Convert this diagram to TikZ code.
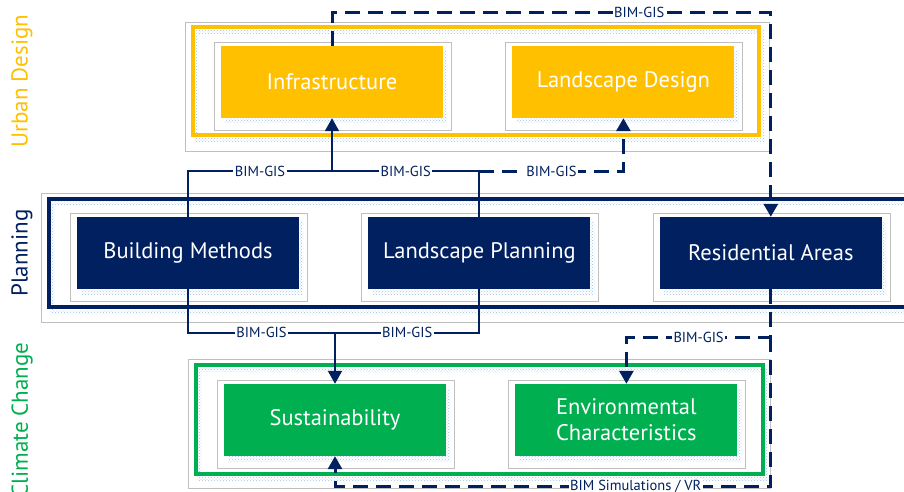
\documentclass[tikz,border=0pt]{standalone}
\usepackage{fontspec}
\setmainfont{PT Sans}
\usetikzlibrary{positioning,arrows.meta,patterns,shadows,backgrounds}
\definecolor{navy}{HTML}{002060}
\definecolor{gold}{HTML}{FFC000}
\definecolor{leaf}{HTML}{00B050}
\definecolor{frameg}{HTML}{BFBFBF}
\definecolor{dotblue}{HTML}{9DC3E6}
\tikzset{
    %Define standard arrow tip
    >={Triangle[width=14pt,length=13pt]},
    %Define style for boxes
    boks/.style={
           rectangle,
           inner sep=0pt,
           minimum width=222pt,
           minimum height=72pt,
           text=white,
           align=center,
           font=\fontsize{22.5}{26}\selectfont,
           general shadow={shadow xshift=4pt, shadow yshift=-5pt,
                           pattern=crosshatch dots, pattern color=dotblue}},
    urbboks/.style={boks, fill=gold},
    planboks/.style={boks, fill=navy},
    klimboks/.style={boks, fill=leaf},
    % Define frame styles
    ramme/.style={line width=4pt},
    graa/.style={draw=frameg, line width=0.8pt},
    prikker/.style={pattern=crosshatch dots, pattern color=dotblue, even odd rule},
    sidetekst/.style={rotate=90, font=\fontsize{23}{27}\selectfont},
    % Define arrow styles
    linje/.style={navy, line width=2pt},
    pil/.style={->, linje},
    stiplet/.style={->, navy, line width=3pt, dash pattern=on 15pt off 8pt},
    etiket/.style={fill=white, text=navy, inner sep=1.5pt,
           font=\fontsize{14.5}{17}\selectfont}
}
\begin{document}
\begin{tikzpicture}[x=1pt, y=1pt, node distance=69pt]
        \useasboundingbox (0,0) rectangle (904,491);
        %nodes
        \node[urbboks] (infra) at (332,409) {Infrastructure};
        \node[urbboks, right=of infra] (landd) {Landscape Design};
        \node[planboks] (build) at (188,238) {Building Methods};
        \node[planboks, right=of build] (lplan) {Landscape Planning};
        \node[planboks, right=of lplan] (resid) {Residential Areas};
        \node[klimboks] (sust) at (335,71) {Sustainability};
        \node[klimboks, right=of sust] (envc) {Environmental\\Characteristics};
        %side labels
        \node[sidetekst, text=gold] (urban) at (22,410) {Urban Design};
        \node[sidetekst, text=navy] (plan) at (22,238) {Planning};
        \node[sidetekst, text=leaf] (klima) at (22,71) {Climate Change};
        %frames
        \begin{scope}[on background layer]
        \draw[graa] (185,340) rectangle (769,469);
        \fill[prikker] (194,349) rectangle (764,461) (198,353) rectangle (760,457);
        \draw[ramme, gold] (193,356) rectangle (759,464);
        \draw[graa] (41,169) rectangle (930,298);
        \fill[prikker] (50,177) rectangle (935,289.5) (54,181) rectangle (931,285.5);
        \draw[ramme, navy] (49,184) rectangle (930,292.5);
        \draw[graa] (188,3) rectangle (770,132);
        \fill[prikker] (197,10) rectangle (768,123) (201,14) rectangle (764,119);
        \draw[ramme, leaf] (196,17) rectangle (763,126);
        \foreach \n in {infra,landd,build,lplan,resid,sust,envc}
            \draw[graa] ([shift={(-6.5,3)}]\n.north west) rectangle ([shift={(8,-12)}]\n.south east);
        \end{scope}
        %solid links
        \coordinate[below=53pt of infra.south] (opknude);
        \coordinate[above=51pt of sust.north] (nedknude);
        \draw[pil] (build.north) |- node[etiket, pos=0.75] {BIM-GIS} (opknude) -- (infra.south);
        \draw[linje] (lplan.north) |- node[etiket, pos=0.75] {BIM-GIS} (opknude);
        \draw[pil] (build.south) |- node[etiket, pos=0.75] {BIM-GIS} (nedknude) -- (sust.north);
        \draw[linje] (lplan.south) |- node[etiket, pos=0.75] {BIM-GIS} (nedknude);
        %dashed links
        \coordinate[above=33pt of infra.north] (topknude);
        \coordinate[below=48pt of resid.south] (hoejreknude);
        \coordinate[below=30pt of sust.south] (bundknude);
        \draw[stiplet] (infra.north) -- (topknude)
            -- node[etiket, pos=0.7] {BIM-GIS} (topknude -| resid.north) -- (resid.north);
        \draw[stiplet] (opknude -| lplan.north)
            -- node[etiket] {BIM-GIS} (opknude -| landd.south) -- (landd.south);
        \draw[stiplet] (resid.south) -- (hoejreknude)
            -- node[etiket] {BIM-GIS} (hoejreknude -| envc.north) -- (envc.north);
        \draw[stiplet] (hoejreknude) -- (hoejreknude |- bundknude)
            -- node[etiket, pos=0.31] {BIM Simulations / VR} (bundknude) -- (sust.south);
\end{tikzpicture}
\end{document}
